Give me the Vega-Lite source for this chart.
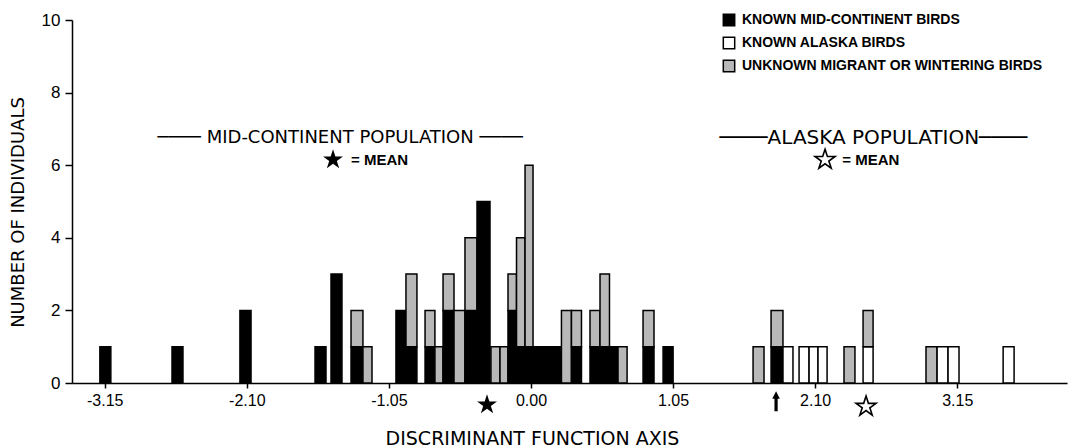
{
  "$schema": "https://vega.github.io/schema/vega-lite/v6.json",
  "autosize": {"type": "none"},
  "padding": {"left": 72, "top": 20, "right": 7, "bottom": 65},
  "width": 995,
  "height": 363,
  "background": "white",
  "config": {
    "view": {"stroke": null},
    "font": "Liberation Sans",
    "axis": {"domainColor": "black", "domainWidth": 1.5, "tickColor": "black", "tickWidth": 1.5, "labelColor": "black", "titleColor": "black", "grid": false, "labelFont": "Liberation Sans", "titleFont": "DejaVu Sans", "titleFontWeight": "normal"}
  },
  "datasets": {
    "bars": [
      {"lo": -3.186, "hi": -3.105, "grp": "KNOWN MID-CONTINENT BIRDS", "n": 1},
      {"lo": -2.653, "hi": -2.572, "grp": "KNOWN MID-CONTINENT BIRDS", "n": 1},
      {"lo": -2.151, "hi": -2.069, "grp": "KNOWN MID-CONTINENT BIRDS", "n": 2},
      {"lo": -1.596, "hi": -1.515, "grp": "KNOWN MID-CONTINENT BIRDS", "n": 1},
      {"lo": -1.478, "hi": -1.397, "grp": "KNOWN MID-CONTINENT BIRDS", "n": 3},
      {"lo": -1.330, "hi": -1.242, "grp": "KNOWN MID-CONTINENT BIRDS", "n": 1},
      {"lo": -1.330, "hi": -1.242, "grp": "UNKNOWN MIGRANT OR WINTERING BIRDS", "n": 1},
      {"lo": -1.242, "hi": -1.175, "grp": "UNKNOWN MIGRANT OR WINTERING BIRDS", "n": 1},
      {"lo": -0.998, "hi": -0.924, "grp": "KNOWN MID-CONTINENT BIRDS", "n": 2},
      {"lo": -0.924, "hi": -0.843, "grp": "KNOWN MID-CONTINENT BIRDS", "n": 1},
      {"lo": -0.924, "hi": -0.843, "grp": "UNKNOWN MIGRANT OR WINTERING BIRDS", "n": 2},
      {"lo": -0.783, "hi": -0.710, "grp": "KNOWN MID-CONTINENT BIRDS", "n": 1},
      {"lo": -0.783, "hi": -0.710, "grp": "UNKNOWN MIGRANT OR WINTERING BIRDS", "n": 1},
      {"lo": -0.710, "hi": -0.650, "grp": "UNKNOWN MIGRANT OR WINTERING BIRDS", "n": 1},
      {"lo": -0.650, "hi": -0.569, "grp": "KNOWN MID-CONTINENT BIRDS", "n": 2},
      {"lo": -0.650, "hi": -0.569, "grp": "UNKNOWN MIGRANT OR WINTERING BIRDS", "n": 1},
      {"lo": -0.569, "hi": -0.488, "grp": "UNKNOWN MIGRANT OR WINTERING BIRDS", "n": 2},
      {"lo": -0.488, "hi": -0.399, "grp": "KNOWN MID-CONTINENT BIRDS", "n": 2},
      {"lo": -0.488, "hi": -0.399, "grp": "UNKNOWN MIGRANT OR WINTERING BIRDS", "n": 2},
      {"lo": -0.399, "hi": -0.303, "grp": "KNOWN MID-CONTINENT BIRDS", "n": 5},
      {"lo": -0.296, "hi": -0.229, "grp": "UNKNOWN MIGRANT OR WINTERING BIRDS", "n": 1},
      {"lo": -0.229, "hi": -0.170, "grp": "UNKNOWN MIGRANT OR WINTERING BIRDS", "n": 1},
      {"lo": -0.170, "hi": -0.107, "grp": "KNOWN MID-CONTINENT BIRDS", "n": 2},
      {"lo": -0.170, "hi": -0.107, "grp": "UNKNOWN MIGRANT OR WINTERING BIRDS", "n": 1},
      {"lo": -0.107, "hi": -0.044, "grp": "KNOWN MID-CONTINENT BIRDS", "n": 1},
      {"lo": -0.107, "hi": -0.044, "grp": "UNKNOWN MIGRANT OR WINTERING BIRDS", "n": 3},
      {"lo": -0.044, "hi": 0.015, "grp": "KNOWN MID-CONTINENT BIRDS", "n": 1},
      {"lo": -0.044, "hi": 0.015, "grp": "UNKNOWN MIGRANT OR WINTERING BIRDS", "n": 5},
      {"lo": 0.015, "hi": 0.081, "grp": "KNOWN MID-CONTINENT BIRDS", "n": 1},
      {"lo": 0.081, "hi": 0.155, "grp": "KNOWN MID-CONTINENT BIRDS", "n": 1},
      {"lo": 0.155, "hi": 0.225, "grp": "KNOWN MID-CONTINENT BIRDS", "n": 1},
      {"lo": 0.225, "hi": 0.299, "grp": "UNKNOWN MIGRANT OR WINTERING BIRDS", "n": 2},
      {"lo": 0.299, "hi": 0.373, "grp": "KNOWN MID-CONTINENT BIRDS", "n": 1},
      {"lo": 0.299, "hi": 0.373, "grp": "UNKNOWN MIGRANT OR WINTERING BIRDS", "n": 1},
      {"lo": 0.436, "hi": 0.510, "grp": "KNOWN MID-CONTINENT BIRDS", "n": 1},
      {"lo": 0.436, "hi": 0.510, "grp": "UNKNOWN MIGRANT OR WINTERING BIRDS", "n": 1},
      {"lo": 0.510, "hi": 0.580, "grp": "KNOWN MID-CONTINENT BIRDS", "n": 1},
      {"lo": 0.510, "hi": 0.580, "grp": "UNKNOWN MIGRANT OR WINTERING BIRDS", "n": 2},
      {"lo": 0.580, "hi": 0.643, "grp": "KNOWN MID-CONTINENT BIRDS", "n": 1},
      {"lo": 0.643, "hi": 0.710, "grp": "UNKNOWN MIGRANT OR WINTERING BIRDS", "n": 1},
      {"lo": 0.828, "hi": 0.909, "grp": "KNOWN MID-CONTINENT BIRDS", "n": 1},
      {"lo": 0.828, "hi": 0.909, "grp": "UNKNOWN MIGRANT OR WINTERING BIRDS", "n": 1},
      {"lo": 0.976, "hi": 1.050, "grp": "KNOWN MID-CONTINENT BIRDS", "n": 1},
      {"lo": 1.641, "hi": 1.722, "grp": "UNKNOWN MIGRANT OR WINTERING BIRDS", "n": 1},
      {"lo": 1.774, "hi": 1.862, "grp": "KNOWN MID-CONTINENT BIRDS", "n": 1},
      {"lo": 1.774, "hi": 1.862, "grp": "UNKNOWN MIGRANT OR WINTERING BIRDS", "n": 1},
      {"lo": 1.862, "hi": 1.936, "grp": "KNOWN ALASKA BIRDS", "n": 1},
      {"lo": 1.981, "hi": 2.055, "grp": "KNOWN ALASKA BIRDS", "n": 1},
      {"lo": 2.055, "hi": 2.121, "grp": "KNOWN ALASKA BIRDS", "n": 1},
      {"lo": 2.121, "hi": 2.188, "grp": "KNOWN ALASKA BIRDS", "n": 1},
      {"lo": 2.313, "hi": 2.394, "grp": "UNKNOWN MIGRANT OR WINTERING BIRDS", "n": 1},
      {"lo": 2.454, "hi": 2.528, "grp": "KNOWN ALASKA BIRDS", "n": 1},
      {"lo": 2.454, "hi": 2.528, "grp": "UNKNOWN MIGRANT OR WINTERING BIRDS", "n": 1},
      {"lo": 2.919, "hi": 3.001, "grp": "UNKNOWN MIGRANT OR WINTERING BIRDS", "n": 1},
      {"lo": 3.001, "hi": 3.082, "grp": "KNOWN ALASKA BIRDS", "n": 1},
      {"lo": 3.082, "hi": 3.163, "grp": "KNOWN ALASKA BIRDS", "n": 1},
      {"lo": 3.489, "hi": 3.570, "grp": "KNOWN ALASKA BIRDS", "n": 1}
    ],
    "midlabel": [
      {"x": -1.41, "y": 6.75, "label": "──── MID-CONTINENT POPULATION ────"}
    ],
    "aklabel": [
      {"x": 2.53, "y": 6.75, "label": "────ALASKA POPULATION────"}
    ],
    "meanlabels": [
      {"x": -1.33, "y": 6.15, "label": "=  MEAN"},
      {"x": 2.30, "y": 6.15, "label": "=  MEAN"}
    ],
    "filledstars": [
      {"x": -1.463, "y": 6.15},
      {"x": -0.325, "y": -0.6}
    ],
    "openstars": [
      {"x": 2.173, "y": 6.15},
      {"x": 2.476, "y": -0.65}
    ],
    "arrows": [
      {"x": 1.811, "y": -0.5}
    ]
  },
  "layer": [
    {
      "data": {"name": "bars"},
      "transform": [
        {"stack": "n", "groupby": ["lo"], "sort": [{"field": "grp", "order": "ascending"}], "as": ["y0", "y1"]}
      ],
      "mark": {"type": "bar", "stroke": "black", "strokeWidth": 1.5},
      "encoding": {
        "x": {
          "field": "lo", "type": "quantitative",
          "scale": {"domain": [-3.392, 3.961], "nice": false, "zero": false},
          "axis": {
            "values": [-3.15, -2.1, -1.05, 0, 1.05, 2.1, 3.15],
            "format": ".2f",
            "labelExpr": "replace(datum.label, '\u2212', '-')",
            "tickSize": 5,
            "labelPadding": 4,
            "labelFontSize": 16,
            "labelFlush": false,
            "labelOverlap": false,
            "title": "DISCRIMINANT FUNCTION AXIS",
            "titleFontSize": 19,
            "titleX": 460,
            "titleY": 55,
            "titleBaseline": "middle",
            "titleAnchor": "middle"
          }
        },
        "x2": {"field": "hi"},
        "y": {
          "field": "y0", "type": "quantitative",
          "scale": {"domain": [0, 10], "nice": false},
          "axis": {
            "values": [0, 1, 2, 3, 4, 5, 6, 7, 8, 9, 10],
            "labelExpr": "datum.value % 2 == 0 ? datum.label : ''",
            "tickSize": 7,
            "labelPadding": 5,
            "labelFontSize": 17,
            "title": "NUMBER OF INDIVIDUALS",
            "titleFontSize": 18,
            "titleX": -54,
            "titleY": 192,
            "titleBaseline": "middle",
            "titleAngle": -90
          }
        },
        "y2": {"field": "y1"},
        "color": {
          "field": "grp", "type": "nominal",
          "scale": {
            "domain": ["KNOWN MID-CONTINENT BIRDS", "KNOWN ALASKA BIRDS", "UNKNOWN MIGRANT OR WINTERING BIRDS"],
            "range": ["black", "white", "#b8b8b8"]
          },
          "legend": {
            "title": null,
            "orient": "none",
            "legendX": 650,
            "legendY": -7,
            "direction": "vertical",
            "symbolType": "square",
            "symbolSize": 130,
            "symbolStrokeColor": "black",
            "symbolStrokeWidth": 1.5,
            "symbolOpacity": 1,
            "labelFont": "Liberation Sans",
            "labelFontSize": 14,
            "labelFontWeight": "bold",
            "labelColor": "black",
            "labelLimit": 400,
            "rowPadding": 5,
            "labelOffset": 6
          }
        }
      }
    },
    {
      "data": {"name": "midlabel"},
      "mark": {"type": "text", "font": "DejaVu Sans", "fontSize": 18, "color": "black", "align": "center", "baseline": "middle"},
      "encoding": {
        "x": {"field": "x", "type": "quantitative"},
        "y": {"field": "y", "type": "quantitative"},
        "text": {"field": "label"}
      }
    },
    {
      "data": {"name": "aklabel"},
      "mark": {"type": "text", "font": "DejaVu Sans", "fontSize": 20, "color": "black", "align": "center", "baseline": "middle"},
      "encoding": {
        "x": {"field": "x", "type": "quantitative"},
        "y": {"field": "y", "type": "quantitative"},
        "text": {"field": "label"}
      }
    },
    {
      "data": {"name": "meanlabels"},
      "mark": {"type": "text", "font": "Liberation Sans", "fontSize": 15, "fontWeight": "bold", "color": "black", "align": "left", "baseline": "middle"},
      "encoding": {
        "x": {"field": "x", "type": "quantitative"},
        "y": {"field": "y", "type": "quantitative"},
        "text": {"field": "label"}
      }
    },
    {
      "data": {"name": "filledstars"},
      "mark": {"type": "point", "shape": "M0,-1L0.2245,-0.309L0.951,-0.309L0.363,0.118L0.588,0.809L0,0.382L-0.588,0.809L-0.363,0.118L-0.951,-0.309L-0.2245,-0.309Z", "filled": true, "color": "black", "size": 440, "opacity": 1, "clip": false},
      "encoding": {
        "x": {"field": "x", "type": "quantitative"},
        "y": {"field": "y", "type": "quantitative"}
      }
    },
    {
      "data": {"name": "openstars"},
      "mark": {"type": "point", "shape": "M0,-1L0.2245,-0.309L0.951,-0.309L0.363,0.118L0.588,0.809L0,0.382L-0.588,0.809L-0.363,0.118L-0.951,-0.309L-0.2245,-0.309Z", "filled": true, "fill": "white", "stroke": "black", "strokeWidth": 1.6, "size": 440, "opacity": 1, "clip": false},
      "encoding": {
        "x": {"field": "x", "type": "quantitative"},
        "y": {"field": "y", "type": "quantitative"}
      }
    },
    {
      "data": {"name": "arrows"},
      "mark": {"type": "point", "shape": "M0,-1L0.38,-0.25L0.16,-0.25L0.16,1L-0.16,1L-0.16,-0.25L-0.38,-0.25Z", "filled": true, "color": "black", "size": 400, "opacity": 1, "clip": false},
      "encoding": {
        "x": {"field": "x", "type": "quantitative"},
        "y": {"field": "y", "type": "quantitative"}
      }
    }
  ]
}
